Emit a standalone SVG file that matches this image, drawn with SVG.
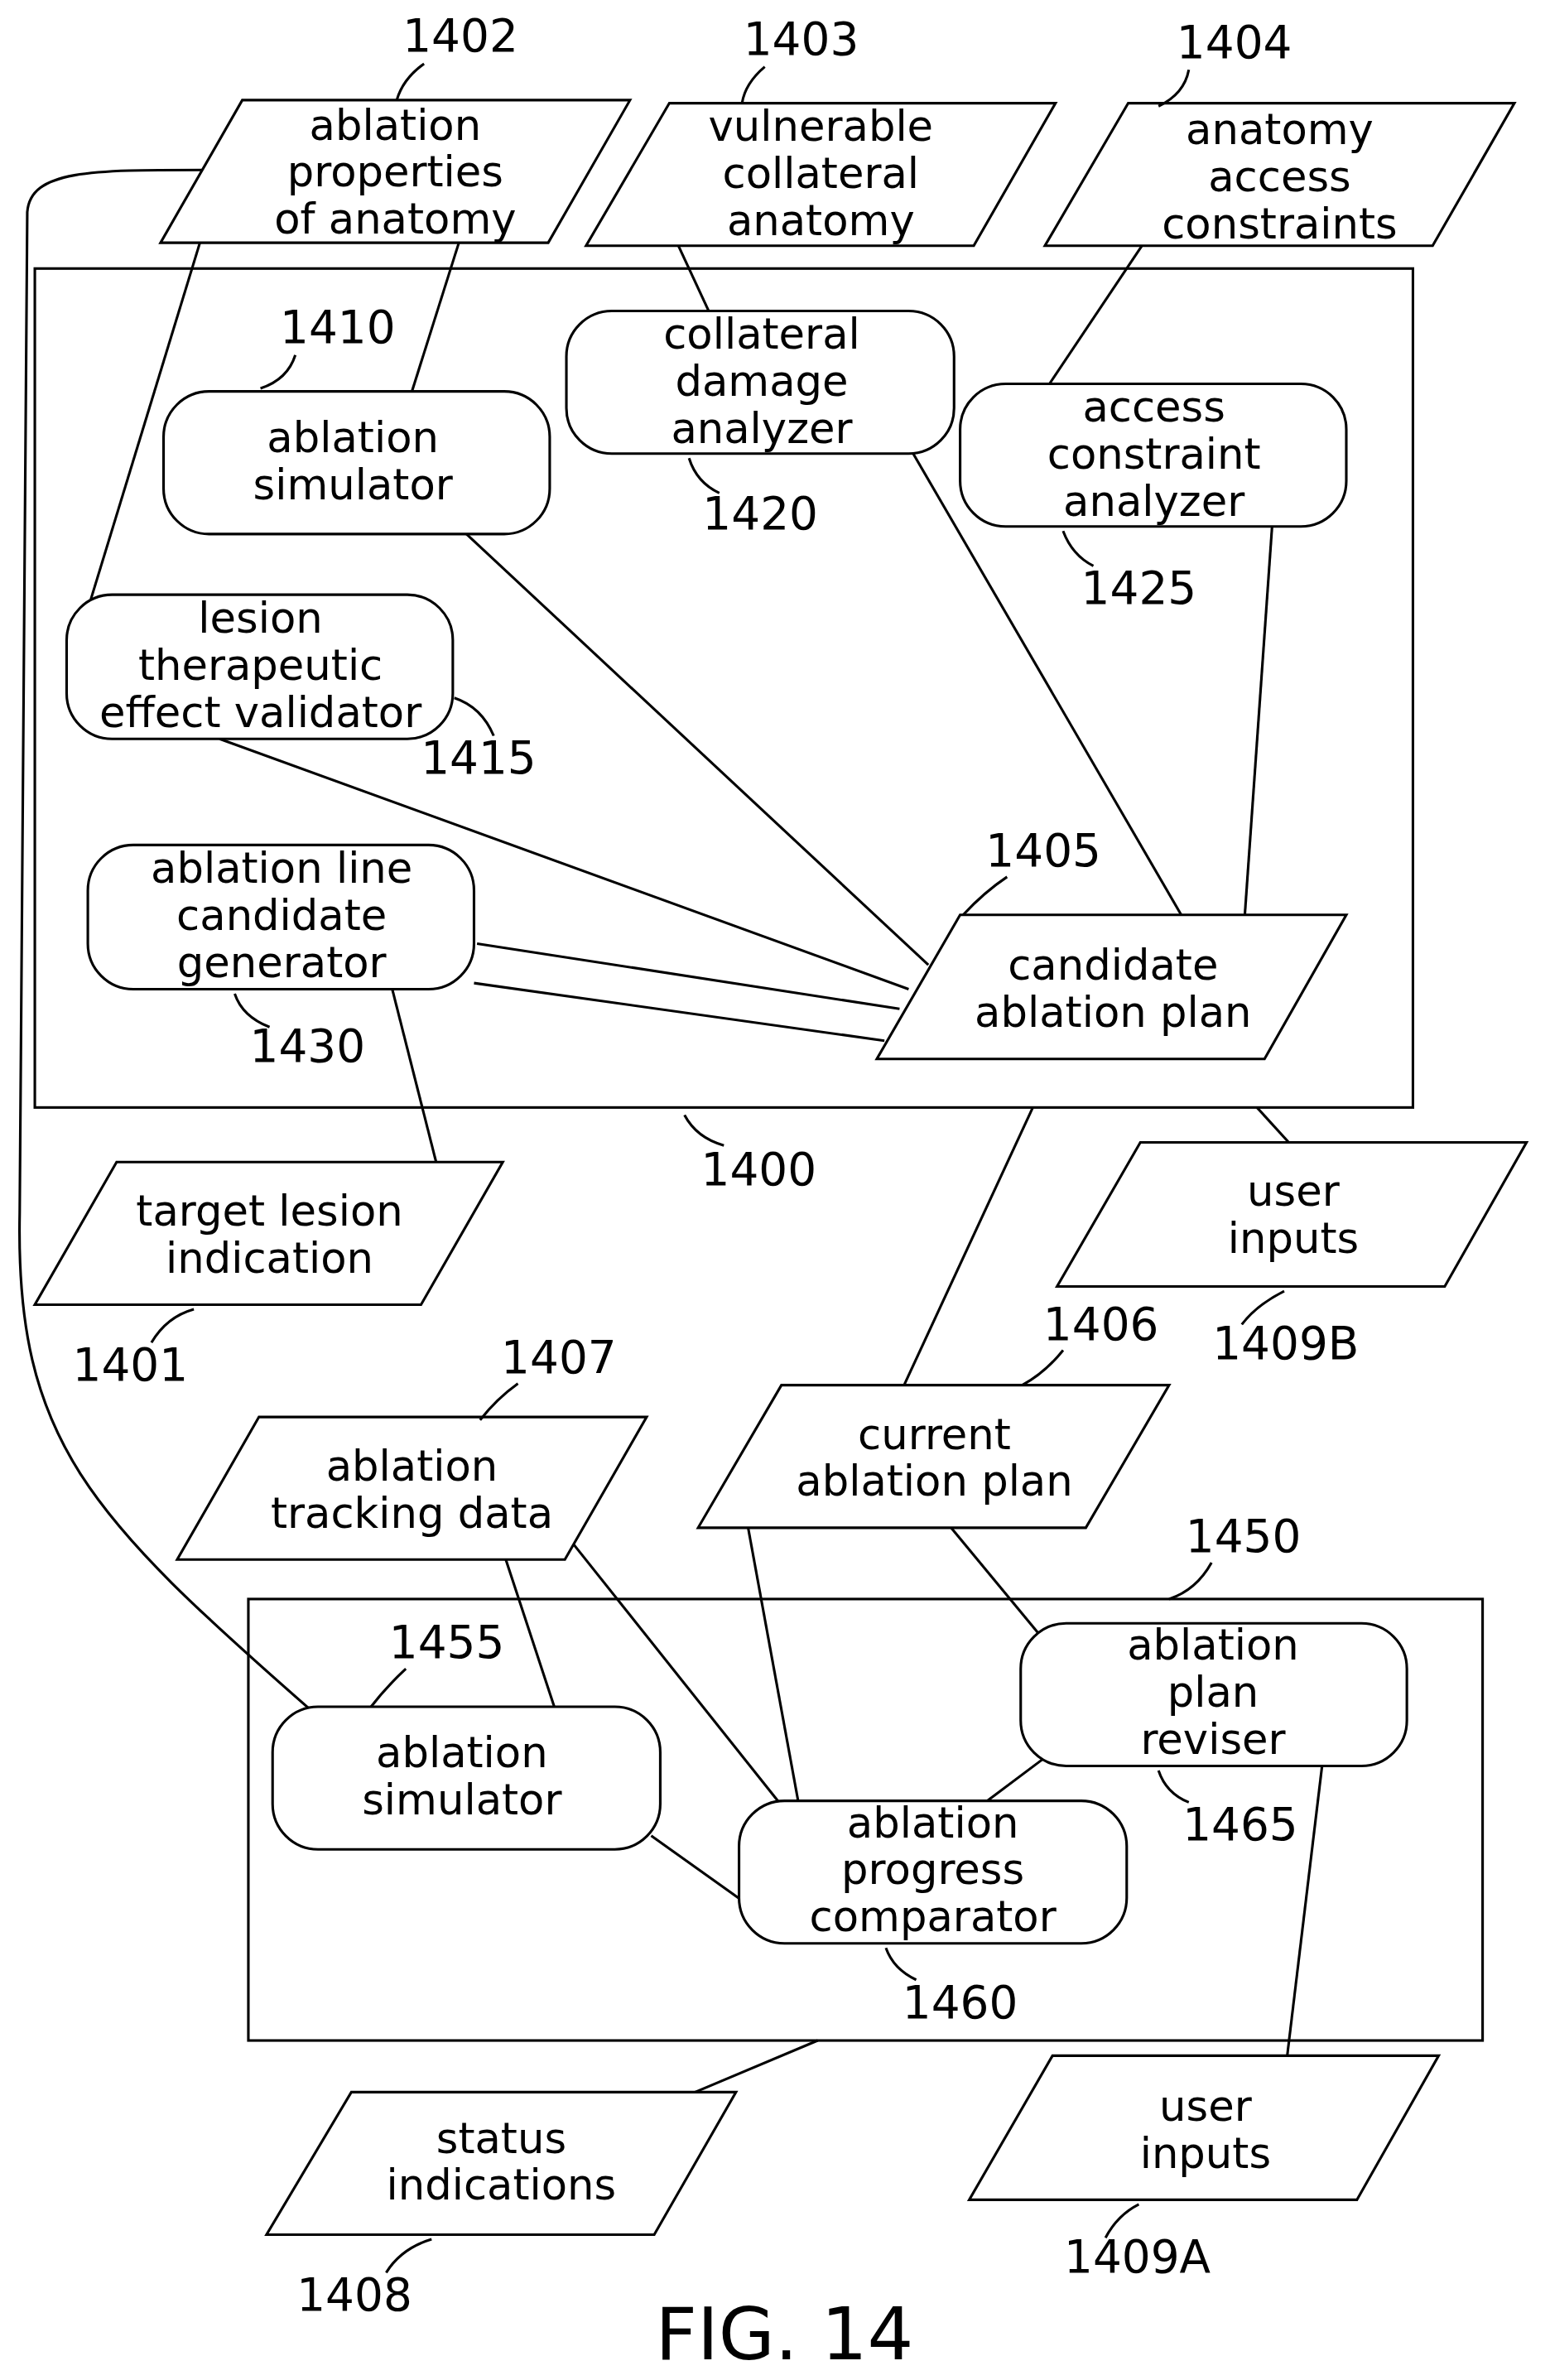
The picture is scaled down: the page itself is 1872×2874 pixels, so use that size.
<svg xmlns="http://www.w3.org/2000/svg" width="1872" height="2874" viewBox="0 0 1872 2874">
<style>
.s{fill:none;stroke:#000;stroke-width:1.7}
.n{fill:#fff;stroke:#000;stroke-width:1.7}
text{font-family:"DejaVu Sans",sans-serif;font-size:28px;text-anchor:middle;fill:#000}
.l{font-size:30px}
</style>
<rect width="1872" height="2874" fill="#fff"/>
<g transform="scale(1.829,1.832)">
<g id="box1400"><rect class="s" x="23" y="177" width="910" height="553"/><text class="l" x="501" y="781">1400</text><path class="s" d="M452,735 Q460,750 478,755"/></g>
<g id="box1450"><rect class="s" x="164" y="1054" width="815" height="291"/><text class="l" x="821" y="1023">1450</text><path class="s" d="M800,1030 Q790,1048 772,1054"/></g>
<g id="connectors">
<path class="s" d="M132,160 L60,395"/>
<path class="s" d="M303,160 L272,258"/>
<path class="s" d="M135,112 C60,112 20,112 18,140 L13,800 C10,950 60,1000 205,1127"/>
<path class="s" d="M448,162 L468,205"/>
<path class="s" d="M754,162 L693,253"/>
<path class="s" d="M308,352 L613,636"/>
<path class="s" d="M603,299 L780,603"/>
<path class="s" d="M840,347 L822,603"/>
<path class="s" d="M145,487 L600,652"/>
<path class="s" d="M315,622 L594,665"/>
<path class="s" d="M313,648 L584,686"/>
<path class="s" d="M259,652 L288,766"/>
<path class="s" d="M682,730 L597,913"/>
<path class="s" d="M830,730 L851,753"/>
<path class="s" d="M334,1028 L366,1125"/>
<path class="s" d="M378,1017 L520,1195"/>
<path class="s" d="M494,1007 L527,1187"/>
<path class="s" d="M628,1007 L686,1077"/>
<path class="s" d="M692,1157 L652,1187"/>
<path class="s" d="M430,1210 L489,1252"/>
<path class="s" d="M873,1164 L850,1355"/>
<path class="s" d="M540,1345 L459,1379"/>
</g>
<g id="n1402"><polygon class="n" points="160,66 416,66 362,160 106,160"/><text x="261" y="92">ablation</text><text x="261" y="123">properties</text><text x="261" y="154">of anatomy</text><text class="l" x="304" y="34">1402</text><path class="s" d="M280,42 Q266,52 262,66"/></g>
<g id="n1403"><polygon class="n" points="442,68 697,68 643,162 387,162"/><text x="542" y="93">vulnerable</text><text x="542" y="124">collateral</text><text x="542" y="155">anatomy</text><text class="l" x="529" y="36">1403</text><path class="s" d="M505,44 Q492,55 490,68"/></g>
<g id="n1404"><polygon class="n" points="745,68 1000,68 946,162 690,162"/><text x="845" y="95">anatomy</text><text x="845" y="126">access</text><text x="845" y="157">constraints</text><text class="l" x="815" y="38">1404</text><path class="s" d="M785,46 Q782,62 765,70"/></g>
<g id="n1410"><rect class="n" x="108" y="258" width="255" height="94" rx="30"/><text x="233" y="298">ablation</text><text x="233" y="329">simulator</text><text class="l" x="223" y="226">1410</text><path class="s" d="M195,234 Q190,250 172,256"/></g>
<g id="n1420"><rect class="n" x="374" y="205" width="256" height="94" rx="30"/><text x="503" y="230">collateral</text><text x="503" y="261">damage</text><text x="503" y="292">analyzer</text><text class="l" x="502" y="349">1420</text><path class="s" d="M455,302 Q460,318 475,325"/></g>
<g id="n1425"><rect class="n" x="634" y="253" width="255" height="94" rx="30"/><text x="762" y="278">access</text><text x="762" y="309">constraint</text><text x="762" y="340">analyzer</text><text class="l" x="752" y="398">1425</text><path class="s" d="M702,350 Q708,366 722,373"/></g>
<g id="n1415"><rect class="n" x="44" y="392" width="255" height="95" rx="30"/><text x="172" y="417">lesion</text><text x="172" y="448">therapeutic</text><text x="172" y="479">effect validator</text><text class="l" x="316" y="510">1415</text><path class="s" d="M300,460 Q318,466 326,485"/></g>
<g id="n1430"><rect class="n" x="58" y="557" width="255" height="95" rx="30"/><text x="186" y="582">ablation line</text><text x="186" y="613">candidate</text><text x="186" y="644">generator</text><text class="l" x="203" y="700">1430</text><path class="s" d="M155,655 Q160,670 178,677"/></g>
<g id="n1405"><polygon class="n" points="634,603 889,603 835,698 579,698"/><text x="735" y="646">candidate</text><text x="735" y="677">ablation plan</text><text class="l" x="689" y="571">1405</text><path class="s" d="M665,578 Q650,588 636,603"/></g>
<g id="n1401"><polygon class="n" points="77,766 332,766 278,860 23,860"/><text x="178" y="808">target lesion</text><text x="178" y="839">indication</text><text class="l" x="86" y="910">1401</text><path class="s" d="M100,885 Q110,868 128,863"/></g>
<g id="n1409B"><polygon class="n" points="753,753 1008,753 954,848 698,848"/><text x="854" y="795">user</text><text x="854" y="826">inputs</text><text class="l" x="849" y="896">1409B</text><path class="s" d="M820,873 Q830,860 848,851"/></g>
<g id="n1407"><polygon class="n" points="171,934 427,934 373,1028 117,1028"/><text x="272" y="976">ablation</text><text x="272" y="1007">tracking data</text><text class="l" x="369" y="905">1407</text><path class="s" d="M342,912 Q328,922 317,936"/></g>
<g id="n1406"><polygon class="n" points="516,913 772,913 717,1007 461,1007"/><text x="617" y="955">current</text><text x="617" y="986">ablation plan</text><text class="l" x="727" y="883">1406</text><path class="s" d="M702,890 Q690,905 675,913"/></g>
<g id="n1455"><rect class="n" x="180" y="1125" width="256" height="94" rx="30"/><text x="305" y="1165">ablation</text><text x="305" y="1196">simulator</text><text class="l" x="295" y="1093">1455</text><path class="s" d="M268,1100 Q255,1112 245,1125"/></g>
<g id="n1465"><rect class="n" x="674" y="1070" width="255" height="94" rx="30"/><text x="801" y="1094">ablation</text><text x="801" y="1125">plan</text><text x="801" y="1156">reviser</text><text class="l" x="819" y="1213">1465</text><path class="s" d="M765,1167 Q770,1182 785,1188"/></g>
<g id="n1460"><rect class="n" x="488" y="1187" width="256" height="94" rx="30"/><text x="616" y="1211">ablation</text><text x="616" y="1242">progress</text><text x="616" y="1273">comparator</text><text class="l" x="634" y="1330">1460</text><path class="s" d="M585,1284 Q590,1298 605,1305"/></g>
<g id="n1408"><polygon class="n" points="232,1379 486,1379 432,1473 176,1473"/><text x="331" y="1419">status</text><text x="331" y="1450">indications</text><text class="l" x="234" y="1523">1408</text><path class="s" d="M255,1498 Q265,1482 285,1476"/></g>
<g id="n1409A"><polygon class="n" points="695,1355 950,1355 896,1450 640,1450"/><text x="796" y="1398">user</text><text x="796" y="1429">inputs</text><text class="l" x="751" y="1498">1409A</text><path class="s" d="M730,1475 Q738,1460 752,1453"/></g>
<text x="518" y="1555" style="font-size:48px">FIG. 14</text>
</g>
</svg>
